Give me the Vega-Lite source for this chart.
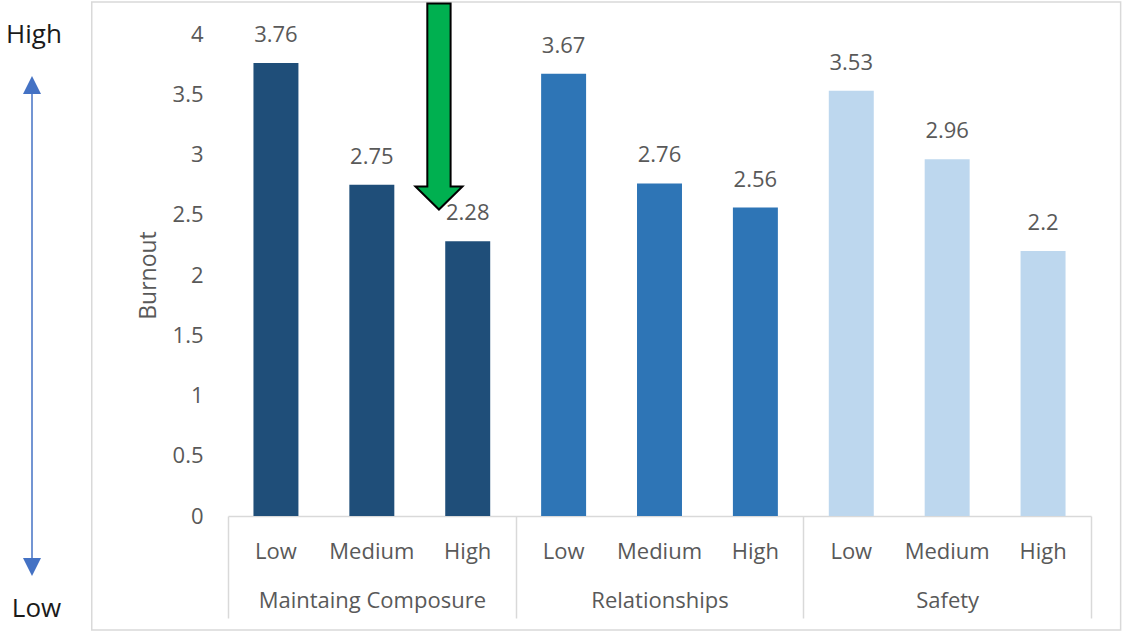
{
  "$schema": "https://vega.github.io/schema/vega-lite/v6.json",
  "width": 863,
  "height": 482,
  "autosize": {"type": "none"},
  "padding": {"left": 228, "top": 34, "right": 33, "bottom": 116},
  "background": "white",
  "config": {
    "view": {"stroke": null},
    "font": "Open Sans"
  },
  "datasets": {
    "bars": [
      {"group": "Maintaing Composure", "level": "Low", "burnout": 3.76},
      {"group": "Maintaing Composure", "level": "Medium", "burnout": 2.75},
      {"group": "Maintaing Composure", "level": "High", "burnout": 2.28},
      {"group": "Relationships", "level": "Low", "burnout": 3.67},
      {"group": "Relationships", "level": "Medium", "burnout": 2.76},
      {"group": "Relationships", "level": "High", "burnout": 2.56},
      {"group": "Safety", "level": "Low", "burnout": 3.53},
      {"group": "Safety", "level": "Medium", "burnout": 2.96},
      {"group": "Safety", "level": "High", "burnout": 2.2}
    ],
    "frame": [{"x1": -1.421, "x2": 9.309, "y1": -0.946, "y2": 4.266}],
    "scaleText": [
      {"label": "High", "x": -2.024, "y": 3.99},
      {"label": "Low", "x": -1.997, "y": -0.77}
    ],
    "scaleLine": [{"x": -2.044, "y1": 3.56, "y2": -0.41}],
    "scaleHeads": [
      {"x": -2.044, "y": 3.577, "dir": "up"},
      {"x": -2.044, "y": -0.423, "dir": "down"}
    ],
    "greenArrow": [{"x": 2.2, "y": 3.398}]
  },
  "layer": [
    {
      "data": {"name": "bars"},
      "encoding": {
        "x": {
          "field": "group",
          "type": "nominal",
          "scale": {"domain": ["Maintaing Composure", "Relationships", "Safety"], "paddingInner": 0, "paddingOuter": 0},
          "axis": {
            "title": null,
            "labelAngle": 0,
            "labelFontSize": 22,
            "labelColor": "#595959",
            "labelBaseline": "middle",
            "labelPadding": -18,
            "labelLimit": 0,
            "tickBand": "extent",
            "ticks": true,
            "tickSize": 102,
            "tickColor": "#D9D9D9",
            "tickWidth": 1.5,
            "domainColor": "#D9D9D9",
            "domainWidth": 1.5,
            "grid": false
          }
        },
        "xOffset": {
          "field": "level",
          "type": "nominal",
          "scale": {"domain": ["Low", "Medium", "High"], "paddingInner": 0.531, "paddingOuter": 0.2655}
        },
        "y": {
          "field": "burnout",
          "type": "quantitative",
          "scale": {"domain": [0, 4], "nice": false, "zero": true},
          "axis": {
            "title": "Burnout",
            "titleFontSize": 23,
            "titleFontWeight": "normal",
            "titleColor": "#595959",
            "titlePadding": 12,
            "values": [0, 0.5, 1, 1.5, 2, 2.5, 3, 3.5, 4],
            "format": "~g",
            "labelFontSize": 22,
            "labelColor": "#595959",
            "labelPadding": 25,
            "ticks": false,
            "domain": false,
            "grid": false
          }
        }
      },
      "layer": [
        {
          "mark": {"type": "bar"},
          "encoding": {
            "color": {
              "field": "group",
              "type": "nominal",
              "scale": {"domain": ["Maintaing Composure", "Relationships", "Safety"], "range": ["#1F4E79", "#2E75B6", "#BDD7EE"]},
              "legend": null
            }
          }
        },
        {
          "mark": {"type": "text", "baseline": "alphabetic", "dy": -21, "fontSize": 22, "color": "#595959"},
          "encoding": {"text": {"field": "burnout", "type": "quantitative", "format": "~g"}}
        },
        {
          "mark": {"type": "text", "baseline": "middle", "dy": 36, "fontSize": 22, "color": "#595959"},
          "encoding": {
            "y": {"datum": 0, "type": "quantitative"},
            "text": {"field": "level", "type": "nominal"}
          }
        }
      ]
    },
    {
      "layer": [
        {
          "data": {"name": "frame"},
          "mark": {"type": "rect", "fill": "transparent", "stroke": "#D9D9D9", "strokeWidth": 1.5},
          "encoding": {
            "x": {"field": "x1", "type": "quantitative", "scale": {"domain": [0, 9], "nice": false, "zero": false}, "axis": null},
            "x2": {"field": "x2"},
            "y": {"field": "y1", "type": "quantitative", "axis": null},
            "y2": {"field": "y2"}
          }
        },
        {
          "data": {"name": "scaleLine"},
          "mark": {"type": "rule", "color": "#4472C4", "strokeWidth": 1.5},
          "encoding": {
            "x": {"field": "x", "type": "quantitative", "axis": null},
            "y": {"field": "y1", "type": "quantitative", "axis": null},
            "y2": {"field": "y2"}
          }
        },
        {
          "data": {"name": "scaleHeads"},
          "mark": {"type": "point", "filled": true, "opacity": 1, "color": "#4472C4", "size": 324},
          "encoding": {
            "x": {"field": "x", "type": "quantitative", "axis": null},
            "y": {"field": "y", "type": "quantitative", "axis": null},
            "shape": {
              "field": "dir",
              "type": "nominal",
              "scale": {"domain": ["up", "down"], "range": ["M0,-1L1,1L-1,1Z", "M-1,-1L1,-1L0,1Z"]},
              "legend": null
            }
          }
        },
        {
          "data": {"name": "scaleText"},
          "mark": {"type": "text", "fontSize": 26, "color": "#1a1a1a", "baseline": "middle", "align": "center"},
          "encoding": {
            "x": {"field": "x", "type": "quantitative", "axis": null},
            "y": {"field": "y", "type": "quantitative", "axis": null},
            "text": {"field": "label", "type": "nominal"}
          }
        },
        {
          "data": {"name": "greenArrow"},
          "mark": {
            "type": "point",
            "filled": true,
            "opacity": 1,
            "fill": "#00B050",
            "stroke": "#000000",
            "strokeWidth": 2,
            "size": 42436,
            "shape": "M-0.113,-1L0.113,-1L0.113,0.777L0.228,0.777L0,1L-0.228,0.777L-0.113,0.777Z"
          },
          "encoding": {
            "x": {"field": "x", "type": "quantitative", "axis": null},
            "y": {"field": "y", "type": "quantitative", "axis": null}
          }
        }
      ]
    }
  ],
  "resolve": {"scale": {"x": "independent"}, "axis": {"x": "independent", "y": "independent"}}
}
